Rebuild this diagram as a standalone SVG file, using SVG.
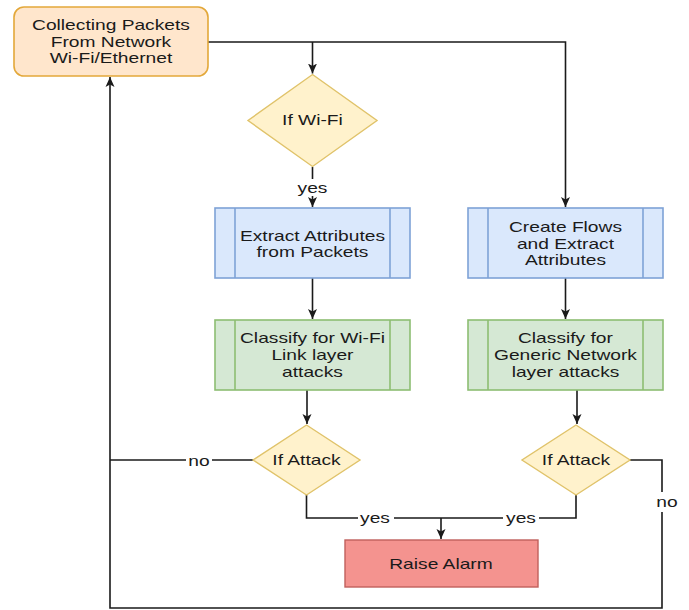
<svg xmlns="http://www.w3.org/2000/svg" width="689" height="610" viewBox="0 0 689 610">
  <style>
    .t { font-family: "Liberation Sans", Arial, Helvetica, sans-serif; font-size: 15px; fill: #1a1a1a; text-anchor: middle; transform-box: fill-box; transform-origin: center; transform: scaleX(1.28); }
    .line { fill: none; stroke: #1a1a1a; stroke-width: 1.6; }
    .start { fill: #ffe6cc; stroke: #e3a83a; stroke-width: 1.6; }
    .dec { fill: #fff2cc; stroke: #e0c36a; stroke-width: 1.4; }
    .blue { fill: #dae8fc; stroke: #7ea2d6; stroke-width: 1.6; }
    .green { fill: #d5e8d4; stroke: #8dbd72; stroke-width: 1.6; }
    .alarm { fill: #f4938f; stroke: #c0605c; stroke-width: 1.4; }
    .lbl { fill: #ffffff; }
  </style>
  <defs>
    <marker id="arrow" viewBox="0 0 10 10" refX="10" refY="5" markerWidth="10" markerHeight="10" orient="auto" markerUnits="userSpaceOnUse">
      <path d="M0,0.5 L10,5 L0,9.5 L2.5,5 Z" fill="#1a1a1a"/>
    </marker>
  </defs>
  <rect width="689" height="610" fill="#ffffff"/>

  <!-- connectors -->
  <g id="connectors">
    <path class="line" d="M208,42 H565.5 V207" marker-end="url(#arrow)"/>
    <path class="line" d="M312.5,42 V73.5" marker-end="url(#arrow)"/>
    <path class="line" d="M312.5,167 V207" marker-end="url(#arrow)"/>
    <path class="line" d="M312.5,278 V319" marker-end="url(#arrow)"/>
    <path class="line" d="M565.5,278 V319" marker-end="url(#arrow)"/>
    <path class="line" d="M307,390 V424" marker-end="url(#arrow)"/>
    <path class="line" d="M577,390 V424" marker-end="url(#arrow)"/>
    <path class="line" d="M253,460 H110"/>
    <path class="line" d="M630,460 H662 V608 H110 V77" marker-end="url(#arrow)"/>
    <path class="line" d="M306.5,495 V518 H576 V495"/>
    <path class="line" d="M441,518 V539" marker-end="url(#arrow)"/>
    <!-- edge labels -->
    <rect class="lbl" x="295" y="179" width="36" height="17"/>
    <text class="t" x="312.5" y="193">yes</text>
    <rect class="lbl" x="186" y="452" width="26" height="17"/>
    <text class="t" x="199" y="466">no</text>
    <rect class="lbl" x="655" y="492" width="24" height="20"/>
    <text class="t" x="667" y="507">no</text>
    <rect class="lbl" x="358" y="510" width="36" height="16"/>
    <text class="t" x="375" y="523">yes</text>
    <rect class="lbl" x="503" y="510" width="36" height="16"/>
    <text class="t" x="521" y="523">yes</text>
  </g>

  <g id="collect">
    <rect class="start" x="14" y="7" width="194" height="69" rx="10" ry="10"/>
    <text class="t" x="111" y="30">Collecting Packets</text>
    <text class="t" x="111" y="47">From Network</text>
    <text class="t" x="111" y="63">Wi-Fi/Ethernet</text>
  </g>

  <g id="if-wifi">
    <polygon class="dec" points="312.5,74.5 377,120.5 312.5,166.5 248,120.5"/>
    <text class="t" x="312.5" y="125.5">If Wi-Fi</text>
  </g>

  <g id="extract">
    <rect class="blue" x="215" y="208" width="195" height="70"/>
    <line class="blue" x1="235" y1="208" x2="235" y2="278"/>
    <line class="blue" x1="390" y1="208" x2="390" y2="278"/>
    <text class="t" x="312.5" y="241">Extract Attributes</text>
    <text class="t" x="312.5" y="257">from Packets</text>
  </g>

  <g id="flows">
    <rect class="blue" x="468" y="208" width="195" height="70"/>
    <line class="blue" x1="488" y1="208" x2="488" y2="278"/>
    <line class="blue" x1="643" y1="208" x2="643" y2="278"/>
    <text class="t" x="565.5" y="232">Create Flows</text>
    <text class="t" x="565.5" y="249">and Extract</text>
    <text class="t" x="565.5" y="265">Attributes</text>
  </g>

  <g id="classify-wifi">
    <rect class="green" x="215" y="320" width="195" height="70"/>
    <line class="green" x1="235" y1="320" x2="235" y2="390"/>
    <line class="green" x1="390" y1="320" x2="390" y2="390"/>
    <text class="t" x="312.5" y="343">Classify for Wi-Fi</text>
    <text class="t" x="312.5" y="360">Link layer</text>
    <text class="t" x="312.5" y="377">attacks</text>
  </g>

  <g id="classify-generic">
    <rect class="green" x="468" y="320" width="195" height="70"/>
    <line class="green" x1="488" y1="320" x2="488" y2="390"/>
    <line class="green" x1="643" y1="320" x2="643" y2="390"/>
    <text class="t" x="565.5" y="343">Classify for</text>
    <text class="t" x="565.5" y="360">Generic Network</text>
    <text class="t" x="565.5" y="377">layer attacks</text>
  </g>

  <g id="attack-left">
    <polygon class="dec" points="306.5,425 360,460 306.5,495 253,460"/>
    <text class="t" x="306.5" y="465">If Attack</text>
  </g>

  <g id="attack-right">
    <polygon class="dec" points="576,425 630,460 576,495 522,460"/>
    <text class="t" x="576" y="465">If Attack</text>
  </g>

  <g id="alarm">
    <rect class="alarm" x="345" y="540" width="193" height="47"/>
    <text class="t" x="441" y="569">Raise Alarm</text>
  </g>
</svg>
